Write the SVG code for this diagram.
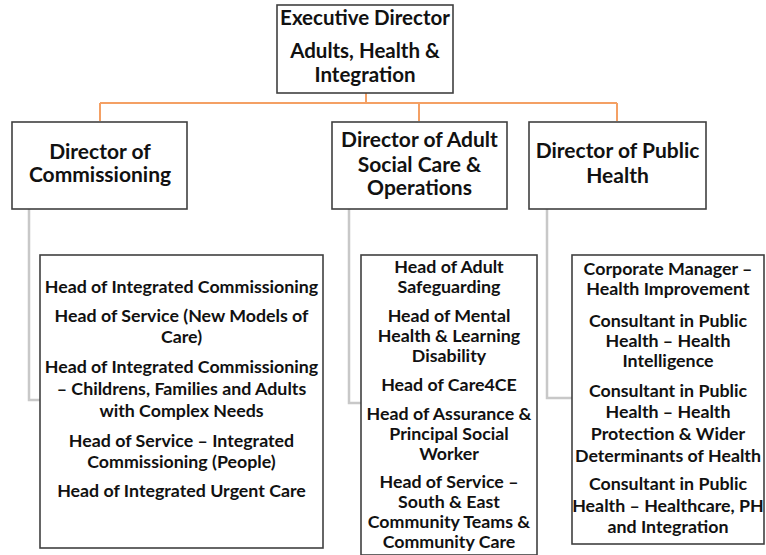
<svg xmlns="http://www.w3.org/2000/svg" width="766" height="555" viewBox="0 0 766 555">
<style>
.box{fill:#ffffff;stroke:#404040;stroke-width:1.6}
.t{font-family:Lato,"Liberation Sans",sans-serif;font-weight:bold;fill:#111111;text-anchor:middle}
.top{font-size:20.5px}
.dir{font-size:21px}
.body{font-size:17.8px}
.org{fill:none;stroke:#f4a064;stroke-width:2}
.gry{fill:none;stroke:#c8c8c8;stroke-width:2.5}
</style>
<rect width="766" height="555" fill="#ffffff"/>
<g id="connectors">
<path class="org" d="M366 93 V103 M100 103 H617 M100 103 V121 M419 103 V121 M617 103 V121"/>
<path class="gry" d="M29 209 V400 H40"/>
<path class="gry" d="M349 209 V403 H361"/>
<path class="gry" d="M547 209 V398 H572"/>
</g>
<g id="executive-director">
<rect class="box" x="277" y="5" width="176" height="88"/>
<text class="t top" x="365" y="25">Executive Director</text>
<text class="t top" x="365" y="58">Adults, Health &amp;</text>
<text class="t top" x="365" y="82">Integration</text>
</g>
<g id="director-commissioning">
<rect class="box" x="12" y="122" width="175" height="87"/>
<text class="t dir" x="100" y="159">Director of</text>
<text class="t dir" x="100" y="182">Commissioning</text>
</g>
<g id="director-adult-social-care">
<rect class="box" x="332" y="122" width="175" height="87"/>
<text class="t dir" x="419.5" y="147">Director of Adult</text>
<text class="t dir" x="419.5" y="172">Social Care &amp;</text>
<text class="t dir" x="419.5" y="195">Operations</text>
</g>
<g id="director-public-health">
<rect class="box" x="529" y="122" width="177" height="87"/>
<text class="t dir" x="617.5" y="158">Director of Public</text>
<text class="t dir" x="617.5" y="183">Health</text>
</g>
<g id="commissioning-heads">
<rect class="box" x="40" y="255" width="283" height="293"/>
<text class="t body" x="181.5" y="293">Head of Integrated Commissioning</text>
<text class="t body" x="181.5" y="322">Head of Service (New Models of</text>
<text class="t body" x="181.5" y="343">Care)</text>
<text class="t body" x="181.5" y="373">Head of Integrated Commissioning</text>
<text class="t body" x="181.5" y="395">– Childrens, Families and Adults</text>
<text class="t body" x="181.5" y="417">with Complex Needs</text>
<text class="t body" x="181.5" y="447">Head of Service – Integrated</text>
<text class="t body" x="181.5" y="468">Commissioning (People)</text>
<text class="t body" x="181.5" y="497">Head of Integrated Urgent Care</text>
</g>
<g id="adult-social-care-heads">
<rect class="box" x="361" y="255" width="176" height="300"/>
<text class="t body" x="449" y="273">Head of Adult</text>
<text class="t body" x="449" y="293">Safeguarding</text>
<text class="t body" x="449" y="322">Head of Mental</text>
<text class="t body" x="449" y="342">Health &amp; Learning</text>
<text class="t body" x="449" y="362">Disability</text>
<text class="t body" x="449" y="391">Head of Care4CE</text>
<text class="t body" x="449" y="420">Head of Assurance &amp;</text>
<text class="t body" x="449" y="440">Principal Social</text>
<text class="t body" x="449" y="460">Worker</text>
<text class="t body" x="449" y="488">Head of Service –</text>
<text class="t body" x="449" y="508">South &amp; East</text>
<text class="t body" x="449" y="528">Community Teams &amp;</text>
<text class="t body" x="449" y="548">Community Care</text>
</g>
<g id="public-health-heads">
<rect class="box" x="572" y="255" width="192" height="289"/>
<text class="t body" x="668" y="275">Corporate Manager –</text>
<text class="t body" x="668" y="295">Health Improvement</text>
<text class="t body" x="668" y="327">Consultant in Public</text>
<text class="t body" x="668" y="347">Health – Health</text>
<text class="t body" x="668" y="367">Intelligence</text>
<text class="t body" x="668" y="397">Consultant in Public</text>
<text class="t body" x="668" y="418">Health – Health</text>
<text class="t body" x="668" y="440">Protection &amp; Wider</text>
<text class="t body" x="668" y="462">Determinants of Health</text>
<text class="t body" x="668" y="490">Consultant in Public</text>
<text class="t body" x="668" y="512">Health – Healthcare, PH</text>
<text class="t body" x="668" y="533">and Integration</text>
</g>
</svg>
